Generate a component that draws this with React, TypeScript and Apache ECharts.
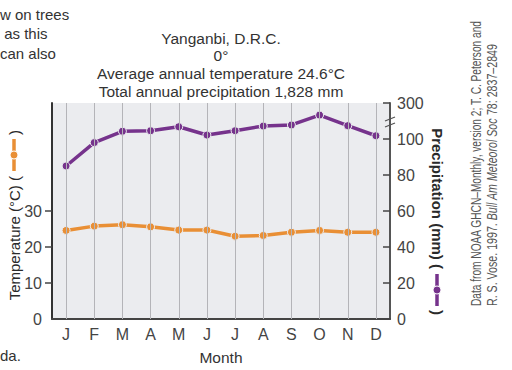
import React, { useEffect, useRef } from 'react';
import * as echarts from 'echarts';

const months = ['J', 'F', 'M', 'A', 'M', 'J', 'J', 'A', 'S', 'O', 'N', 'D'];
const temperatureC = [24.6, 25.8, 26.2, 25.6, 24.7, 24.7, 23.0, 23.2, 24.1, 24.6, 24.1, 24.1];
const precipitationMm = [85, 98, 143, 146, 168, 122, 146, 172, 178, 233, 174, 118];
const tempLabelValues = [0, 10, 20, 30];
const tempTickValues = [10, 20, 30];
const precipTicks = [0, 20, 40, 60, 80, 100, 120];
const titleLines = [
  'Yanganbi, D.R.C.',
  '0°',
  'Average annual temperature 24.6°C',
  'Total annual precipitation 1,828 mm',
];
const sideTextLeft = ['w on trees', ' as this', 'can also'];
const sideTextBottom = 'da.';
const citeLine1 = 'Data from NOAA GHCN–Monthly, version 2; T. C. Peterson and';
const citeLine2a = 'R. S. Vose. 1997. ';
const citeLine2b = 'Bull Am Meteorol Soc';
const citeLine2c = ' 78: 2837–2849';

// broken axis: 0–100 linear, 100–300 compressed into the top band (100..120 axis units)
const BREAK_AT = 100;
const TOP_LABEL = 300;
const toAxis = (v: number) => (v <= BREAK_AT ? v : BREAK_AT + ((v - BREAK_AT) / (TOP_LABEL - BREAK_AT)) * 20);

const ORANGE = '#e98f35';
const PURPLE = '#76338c';
const BG = '#ebecef';
const FONT = 'Liberation Sans';

function measure(text: string, font: string): number {
  const c = document.createElement('canvas');
  const ctx = c.getContext('2d');
  if (!ctx) return text.length * 6.5;
  ctx.font = font;
  return ctx.measureText(text).width;
}

export default function App() {
  const ref = useRef<HTMLDivElement>(null);
  useEffect(() => {
    if (!ref.current) return;
    const chart = echarts.init(ref.current, undefined, { renderer: 'svg' });

    const legendGroup = (x: number, y: number, rot: number, label: string, color: string, bold: boolean) => ({
      type: 'group',
      x,
      y,
      rotation: rot,
      children: [
        {
          type: 'text',
          x: -21,
          y: 0,
          style: {
            text: label,
            align: 'right',
            verticalAlign: 'middle',
            fontFamily: FONT,
            fontSize: 15,
            fontWeight: bold ? 'bold' : 'normal',
            fill: '#2a2a2a',
          },
        },
        { type: 'line', shape: { x1: -16, y1: 0, x2: 16, y2: 0 }, style: { stroke: color, lineWidth: 3.5 } },
        { type: 'circle', shape: { cx: 0, cy: 0, r: 4 }, style: { fill: color, stroke: '#fff', lineWidth: 1 } },
        {
          type: 'text',
          x: 20,
          y: 0,
          style: {
            text: ')',
            align: 'left',
            verticalAlign: 'middle',
            fontFamily: FONT,
            fontSize: 15,
            fontWeight: bold ? 'bold' : 'normal',
            fill: '#2a2a2a',
          },
        },
      ],
    });

    const graphics: any[] = [];
    titleLines.forEach((t, i) => {
      graphics.push({
        type: 'text',
        x: 221,
        y: 38 + i * 17.7,
        style: { text: t, align: 'center', verticalAlign: 'middle', fontFamily: FONT, fontSize: 15.5, fill: '#333' },
      });
    });
    sideTextLeft.forEach((t, i) => {
      graphics.push({
        type: 'text',
        x: 0,
        y: 14 + i * 19.5,
        style: { text: t, align: 'left', verticalAlign: 'middle', fontFamily: FONT, fontSize: 15, fill: '#333' },
      });
    });
    graphics.push({
      type: 'text',
      x: 0,
      y: 355,
      style: { text: sideTextBottom, align: 'left', verticalAlign: 'middle', fontFamily: FONT, fontSize: 15, fill: '#333' },
    });
    graphics.push(legendGroup(14, 155, Math.PI / 2, 'Temperature (°C) (', ORANGE, false));
    graphics.push(legendGroup(437, 290, -Math.PI / 2, 'Precipitation (mm) (', PURPLE, true));

    // citation: condensed by horizontal scaling
    const CITE_SIZE = 15;
    const citeFont = `${CITE_SIZE}px "${FONT}"`;
    const w1 = measure(citeLine1, citeFont);
    const w2 =
      measure(citeLine2a, citeFont) +
      measure(citeLine2b, `italic ${citeFont}`) +
      measure(citeLine2c, citeFont);
    const s1 = 286 / w1;
    const s2 = 262 / w2;
    graphics.push({
      type: 'text',
      x: 476,
      y: 306,
      rotation: Math.PI / 2,
      scaleX: s1,
      style: {
        text: citeLine1,
        align: 'left',
        verticalAlign: 'middle',
        fontFamily: FONT,
        fontSize: CITE_SIZE,
        fill: '#555',
      },
    });
    graphics.push({
      type: 'text',
      x: 492,
      y: 306,
      rotation: Math.PI / 2,
      scaleX: s2,
      style: {
        text: `{n|${citeLine2a}}{i|${citeLine2b}}{n|${citeLine2c}}`,
        align: 'left',
        verticalAlign: 'middle',
        fontFamily: FONT,
        fontSize: CITE_SIZE,
        fill: '#555',
        rich: {
          n: { fontFamily: FONT, fontSize: CITE_SIZE, fill: '#555' },
          i: { fontStyle: 'italic', fontFamily: FONT, fontSize: CITE_SIZE, fill: '#555' },
        },
      },
    });
    // axis break mark
    graphics.push({ type: 'rect', shape: { x: 387, y: 118, width: 3, height: 8 }, style: { fill: BG } });
    graphics.push({ type: 'rect', shape: { x: 390, y: 118, width: 3, height: 8 }, style: { fill: '#fff' } });
    graphics.push({ type: 'line', shape: { x1: 385, y1: 121, x2: 395, y2: 117 }, style: { stroke: '#555', lineWidth: 1.3 } });
    graphics.push({ type: 'line', shape: { x1: 385, y1: 127, x2: 395, y2: 123 }, style: { stroke: '#555', lineWidth: 1.3 } });

    const option: any = {
      animation: false,
      grid: { left: 52, right: 122, top: 103, bottom: 45, show: true, backgroundColor: BG, borderWidth: 0 },
      xAxis: {
        type: 'category',
        data: months,
        boundaryGap: true,
        name: 'Month',
        nameLocation: 'middle',
        nameGap: 30,
        nameTextStyle: { fontFamily: FONT, fontSize: 15.5, color: '#333' },
        axisLine: { lineStyle: { color: '#444', width: 2 } },
        axisTick: { alignWithLabel: true, inside: true, length: 8, lineStyle: { color: '#444', width: 1.5 } },
        axisLabel: { fontFamily: FONT, fontSize: 16, color: '#444', margin: 7 },
        splitLine: { show: false },
      },
      yAxis: [
        {
          type: 'value',
          min: 0,
          max: 60,
          interval: 10,
          position: 'left',
          axisLine: { show: true, lineStyle: { color: '#333', width: 2 } },
          axisTick: { show: true, length: 7, customValues: tempTickValues, lineStyle: { color: '#444', width: 1.5 } },
          axisLabel: { fontFamily: FONT, fontSize: 16, color: '#444', margin: 10, customValues: tempLabelValues },
          splitLine: { show: false },
        },
        {
          type: 'value',
          min: 0,
          max: 120,
          interval: 20,
          position: 'right',
          axisLine: { show: true, lineStyle: { color: '#555', width: 2 } },
          axisTick: { show: true, inside: true, length: 7, customValues: precipTicks.slice(1), lineStyle: { color: '#444', width: 1.5 } },
          axisLabel: {
            fontFamily: FONT,
            fontSize: 16,
            color: '#444',
            margin: 7,
            customValues: precipTicks,
            formatter: (v: number) => (v === 120 ? String(TOP_LABEL) : String(v)),
          },
          splitLine: { show: false },
        },
      ],
      series: [
        {
          type: 'line',
          data: [],
          z: 1,
          silent: true,
          markLine: {
            silent: true,
            symbol: ['none', 'none'],
            label: { show: false },
            lineStyle: { color: '#b4b4b8', width: 1, type: 'solid' },
            data: months.map((_, i) => ({ xAxis: i })),
          },
        },
        {
          type: 'line',
          yAxisIndex: 0,
          data: temperatureC,
          z: 3,
          symbol: 'circle',
          symbolSize: 8,
          lineStyle: { color: ORANGE, width: 3.5 },
          itemStyle: { color: ORANGE, borderColor: BG, borderWidth: 1 },
        },
        {
          type: 'line',
          yAxisIndex: 1,
          data: precipitationMm.map(toAxis),
          z: 3,
          symbol: 'circle',
          symbolSize: 8,
          lineStyle: { color: PURPLE, width: 3.5 },
          itemStyle: { color: PURPLE, borderColor: BG, borderWidth: 1 },
        },
      ],
      graphic: graphics,
    };
    chart.setOption(option);
    return () => chart.dispose();
  }, []);
  return <div ref={ref} style={{ position: 'fixed', left: 0, top: 0, width: 512, height: 370, background: '#fff' }} />;
}
